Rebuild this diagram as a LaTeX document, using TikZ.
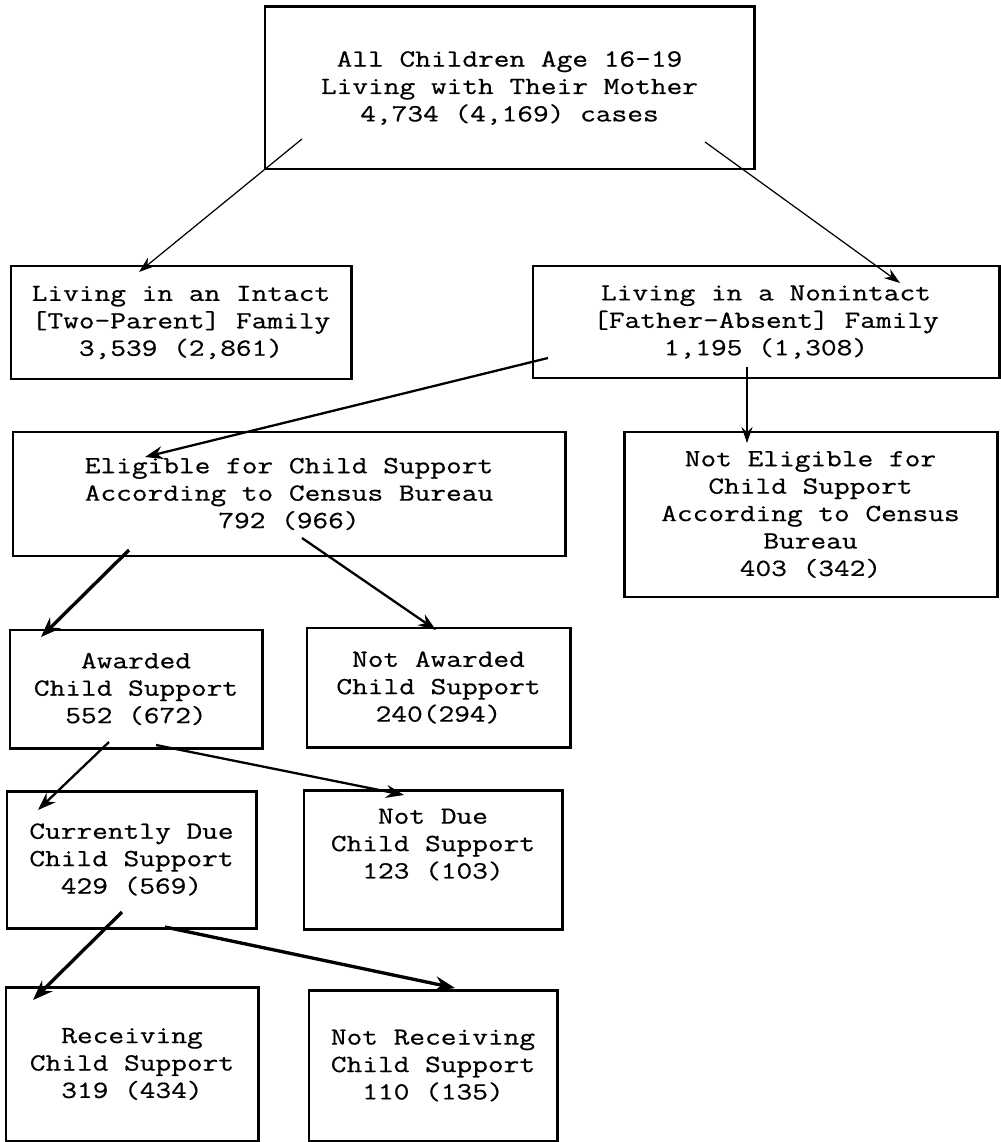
\documentclass[tikz,border=0pt]{standalone}
\usepackage{fontspec}
\setmonofont{Latin Modern Mono}[FakeStretch=1.24, FakeBold=0.6]
\usepackage{tikz}
\usetikzlibrary{arrows.meta,calc}

\tikzset{
    box/.style={draw, line width=1.7pt, inner sep=0pt, align=center,
        font=\ttfamily\fontsize{14}{15.6}\selectfont},
    thinarr/.style={-{Stealth[length=3.2mm,width=2.2mm]}, line width=0.7pt},
    medarr/.style={-{Stealth[length=3.6mm,width=2.6mm]}, line width=1.3pt},
    thickarr/.style={-{Stealth[length=4mm,width=3mm]}, line width=1.9pt}
}

\begin{document}
\begin{tikzpicture}[x=0.2mm, y=-0.2mm]
    \useasboundingbox (0,0) rectangle (1000,1142);
    % boxes
    \node[box, minimum width=97.8mm, minimum height=32.4mm] (all) at (509.5,88)
        {All Children Age 16-19\\Living with Their Mother\\4,734 (4,169) cases};
    \node[box, minimum width=68mm, minimum height=22.6mm] (intact) at (181,322.5)
        {Living in an Intact\\{[Two-Parent]} Family\\3,539 (2,861)};
    \node[box, minimum width=93.2mm, minimum height=22.4mm] (nonintact) at (766,322)
        {Living in a Nonintact\\{[Father-Absent]} Family\\1,195 (1,308)};
    \node[box, minimum width=110.4mm, minimum height=24.8mm] (elig) at (289,494)
        {Eligible for Child Support\\According to Census Bureau\\792 (966)};
    \node[box, minimum width=74.6mm, minimum height=33mm] (notelig) at (810.5,514.5)
        {Not Eligible for\\Child Support\\According to Census\\Bureau\\403 (342)};
    \node[box, minimum width=50.4mm, minimum height=23.6mm] (awarded) at (136,689)
        {Awarded\\Child Support\\552 (672)};
    \node[box, minimum width=52.6mm, minimum height=23.8mm] (notawarded) at (438.5,687.5)
        {Not Awarded\\Child Support\\240(294)};
    \node[box, minimum width=49.8mm, minimum height=27.4mm] (due) at (131.5,859.5)
        {Currently Due\\Child Support\\429 (569)};
    \node[box, minimum width=51.6mm, minimum height=27.8mm] (notdue) at (433,859.5)
        {Not Due\\Child Support\\123 (103)\\[0.9mm]\mbox{}};
    \node[box, minimum width=50.4mm, minimum height=30.8mm] (receiving) at (132,1064)
        {Receiving\\Child Support\\319 (434)};
    \node[box, minimum width=49.6mm, minimum height=30.2mm] (notreceiving) at (433,1065.5)
        {Not Receiving\\Child Support\\110 (135)};

    % arrows
    \draw[thinarr] ($(all)+(-207.5,51)$) -- ($(intact)+(-42,-50.5)$);
    \draw[thinarr] ($(all)+(195.5,54)$) -- ($(nonintact)+(134,-39)$);
    \draw[medarr] ($(nonintact)+(-218,36)$) -- ($(elig)+(-144,-37)$);
    \draw[thinarr] ($(nonintact)+(-19,45)$) -- ($(notelig)+(-63.5,-71.5)$);
    \draw[thickarr] ($(elig)+(-160,56)$) -- ($(awarded)+(-95,-52)$);
    \draw[medarr] ($(elig)+(13,44)$) -- ($(notawarded)+(-2.5,-57.5)$);
    \draw[medarr] ($(awarded)+(-27,53)$) -- ($(due)+(-93.5,-49.5)$);
    \draw[medarr] ($(awarded)+(20,56)$) -- ($(notdue)+(-29,-64.5)$);
    \draw[thickarr] ($(due)+(-9.5,52.5)$) -- ($(receiving)+(-99,-64)$);
    \draw[thickarr] ($(due)+(33.5,67.5)$) -- ($(notreceiving)+(22,-77.5)$);
\end{tikzpicture}
\end{document}
